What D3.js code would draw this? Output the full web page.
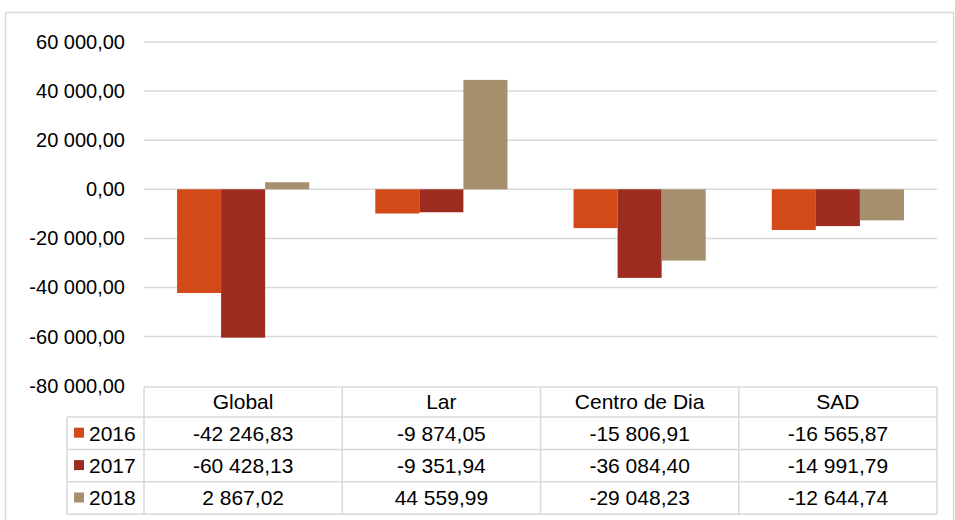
<!DOCTYPE html>
<html>
<head>
<meta charset="utf-8">
<script src="https://cdn.jsdelivr.net/npm/d3@7"></script>
<style>
  html, body { margin: 0; padding: 0; background: #fff; }
  svg { display: block; font-family: "Liberation Sans", Arial, sans-serif; }
</style>
</head>
<body>
<svg id="chart" width="955" height="520"></svg>
<script>
// Categories, series and values
const categories = ["Global", "Lar", "Centro de Dia", "SAD"];
const seriesNames = ["2016", "2017", "2018"];
const values2016 = [-42246.83, -9874.05, -15806.91, -16565.87];
const values2017 = [-60428.13, -9351.94, -36084.40, -14991.79];
const values2018 = [2867.02, 44559.99, -29048.23, -12644.74];
const yTicks = [60000, 40000, 20000, 0, -20000, -40000, -60000, -80000];
const seriesColors = ["#D24A18", "#9C2B20", "#A68F6C"];

const seriesValues = [values2016, values2017, values2018];

const svg = d3.select("#chart");
const gridColor = "#D9D9D9";

// Outer chart frame
svg.append("rect")
  .attr("x", 5.5).attr("y", 12.5)
  .attr("width", 948).attr("height", 520)
  .attr("fill", "none").attr("stroke", gridColor).attr("stroke-width", 1.5);

const plotLeft = 144, plotRight = 937;
const y = d3.scaleLinear().domain([-80000, 60000]).range([385.7, 42]);
const x0 = d3.scaleBand().domain(categories).range([plotLeft, plotRight]).paddingInner(0).paddingOuter(0);
const x1 = d3.scaleBand().domain(seriesNames).range([0, x0.bandwidth()]).paddingInner(0).paddingOuter(0.75);
const color = d3.scaleOrdinal().domain(seriesNames).range(seriesColors);

const fmt = v => {
  const s = d3.format(",.2f")(Math.abs(v)).replace(/,/g, " ").replace(".", ",");
  return (v < 0 ? "-" : "") + s;
};

// Gridlines (the lowest one is covered by the table's top edge)
svg.append("g").selectAll("line").data(yTicks.filter(t => t > -80000)).join("line")
  .attr("x1", plotLeft).attr("x2", plotRight)
  .attr("y1", d => y(d)).attr("y2", d => y(d))
  .attr("stroke", gridColor).attr("stroke-width", 1.5);

// Y axis labels
const yAxis = d3.axisLeft(y).tickValues(yTicks).tickSize(0).tickPadding(0).tickFormat(fmt);
const gy = svg.append("g").attr("transform", "translate(125,0)").call(yAxis);
gy.select(".domain").remove();
gy.selectAll("text").attr("font-size", 20).attr("fill", "#000")
  .attr("font-family", "Liberation Sans, Arial, sans-serif");

// Bars
const rows = seriesNames.map((s, i) => ({ name: s, values: seriesValues[i] }));
svg.append("g").selectAll("g").data(rows).join("g")
  .attr("fill", d => color(d.name))
  .selectAll("rect")
  .data(d => d.values.map((v, j) => ({ name: d.name, cat: categories[j], v })))
  .join("rect")
  .attr("x", d => x0(d.cat) + x1(d.name))
  .attr("width", x1.bandwidth())
  .attr("y", d => y(Math.max(0, d.v)))
  .attr("height", d => Math.abs(y(d.v) - y(0)));

// Data table
const headTop = 387, headBottom = 417, rowH = 32.4;
const legendLeft = 67;
const tableBottom = headBottom + rowH * seriesNames.length;
const tg = svg.append("g").attr("stroke", gridColor).attr("stroke-width", 1.5);

tg.append("line").attr("x1", plotLeft).attr("x2", plotRight).attr("y1", headTop).attr("y2", headTop);
for (let i = 0; i <= seriesNames.length; i++) {
  const yy = headBottom + rowH * i;
  tg.append("line").attr("x1", legendLeft).attr("x2", plotRight).attr("y1", yy).attr("y2", yy);
}
tg.append("line").attr("x1", legendLeft).attr("x2", legendLeft).attr("y1", headBottom).attr("y2", tableBottom);
[...categories.map(c => x0(c)), plotRight].forEach(xx => {
  tg.append("line").attr("x1", xx).attr("x2", xx).attr("y1", headTop).attr("y2", tableBottom);
});

// Header text
svg.append("g").selectAll("text").data(categories).join("text")
  .attr("x", d => x0(d) + x0.bandwidth() / 2)
  .attr("y", (headTop + headBottom) / 2)
  .attr("dy", "0.35em")
  .attr("text-anchor", "middle")
  .attr("font-size", 21)
  .text(d => d);

// Rows: legend key + values
rows.forEach((r, i) => {
  const cy = headBottom + rowH * i + rowH / 2;
  svg.append("rect").attr("x", 74).attr("y", cy - 5.5).attr("width", 10).attr("height", 10)
    .attr("fill", color(r.name));
  svg.append("text").attr("x", 89).attr("y", cy).attr("dy", "0.35em")
    .attr("font-size", 21).text(r.name);
  svg.append("g").selectAll("text").data(r.values).join("text")
    .attr("x", (d, j) => x0(categories[j]) + x0.bandwidth() / 2)
    .attr("y", cy).attr("dy", "0.35em")
    .attr("text-anchor", "middle")
    .attr("font-size", 21)
    .text(d => fmt(d));
});
</script>
</body>
</html>
